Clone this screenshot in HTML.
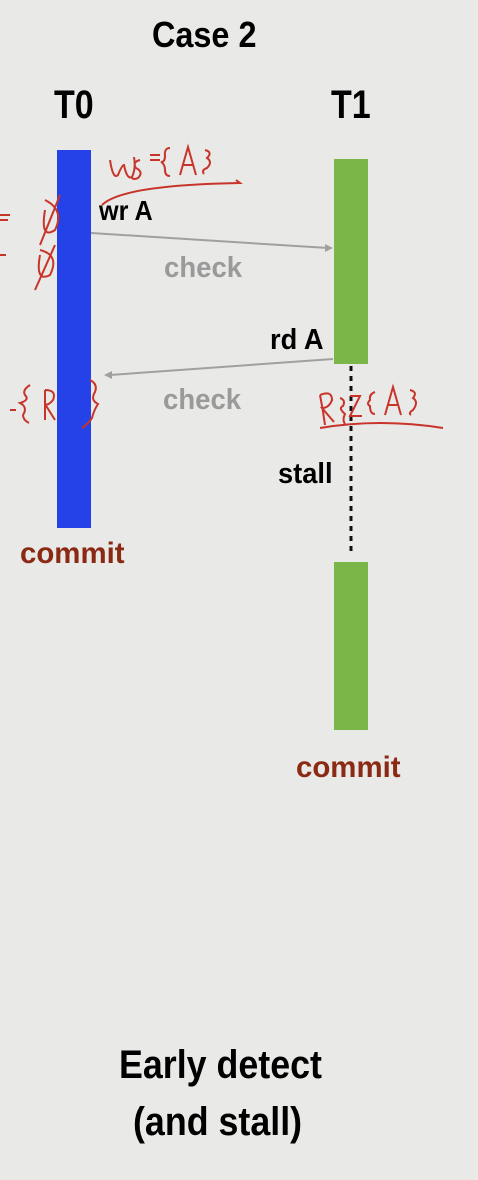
<!DOCTYPE html>
<html><head><style>
body{margin:0;width:478px;height:1180px;background:#e9e9e7;position:relative;overflow:hidden;font-family:"Liberation Sans",sans-serif;font-weight:bold}
.t{position:absolute;white-space:nowrap;transform-origin:left top}
</style></head><body>
<svg width="478" height="1180" style="position:absolute;left:0;top:0">
<rect x="57" y="150" width="34" height="378" fill="#2442e8"/>
<rect x="334" y="159" width="34" height="205" fill="#7ab648"/>
<rect x="334" y="562" width="34" height="168" fill="#7ab648"/>
<line x1="91" y1="233" x2="328" y2="248" stroke="#a0a0a0" stroke-width="2"/>
<polygon points="333,248 325,244 325,252" fill="#a0a0a0"/>
<line x1="333" y1="359" x2="110" y2="375" stroke="#a0a0a0" stroke-width="2"/>
<polygon points="104,375 112,371 112,379" fill="#a0a0a0"/>
<line x1="351" y1="366" x2="351" y2="552" stroke="#111" stroke-width="3" stroke-dasharray="5,5"/>
<g fill="none" stroke="#c8342a" stroke-width="2">
<path d="M110 160 q3 20 8 15 q4-10 6-10 q3 15 8 12 q4-8 2-20 M140 160 q-8 2-4 8 q8 4 2 10 q-4 2-6 0 M150 155 h10 M150 160 h10 M170 148 q-6 0-5 8 q0 6-4 6 q4 2 4 8 q0 6 5 6 M180 175 l8-28 l8 28 M183 165 h10 M205 150 q8 2 2 8 q6 4 0 10 q-6 2-3 6"/>
<path d="M102 205 q20-20 138-22 l-4-3"/>
<path d="M45 200 q20 10 10 30 q-15 10-10-20 M60 195 l-20 50 M40 250 q20 5 10 25 q-15 8-10-20 M55 245 l-20 45 M0 215 h10 M0 220 h8 M0 255 h6"/>
<path d="M30 385 q-8 5-5 10 q5 5-5 8 q8 4 3 12 q0 5 6 8 M45 390 v30 M45 390 q12 0 8 10 q-5 6-8 4 l10 16 M90 380 q8 4 5 12 q-5 8 3 12 q-4 6-6 14 q-3 5-10 10 M10 410 h6"/>
<path d="M320 395 q3 15 5 30 M320 395 q12-5 12 5 q-3 8-10 8 l12 14 M340 398 q6 2 3 8 q-5 2 2 8 q-3 6 0 10 M350 396 h10 l-10 20 h12 M375 392 q-6 2-5 8 q-4 4 0 6 q0 8 5 8 M385 415 l8-28 l8 28 M388 405 h10 M410 390 q8 2 3 8 q6 4 0 12 q-5 3-2 5 M320 428 q60 -10 123 0"/>
</g>
</svg>
<div class="t" style="left:152px;top:14px;font-size:36px;transform:scaleX(0.9)">Case 2</div>
<div class="t" style="left:54px;top:83px;font-size:40px;transform:scaleX(0.85)">T0</div>
<div class="t" style="left:331px;top:83px;font-size:40px;transform:scaleX(0.85)">T1</div>
<div class="t" style="left:99px;top:195px;font-size:28px;transform:scaleX(0.9)">wr A</div>
<div class="t" style="left:164px;top:252px;font-size:29px;color:#9a9a9a;transform:scaleX(0.95)">check</div>
<div class="t" style="left:270px;top:324px;font-size:29px;transform:scaleX(0.94)">rd A</div>
<div class="t" style="left:163px;top:384px;font-size:29px;color:#9a9a9a;transform:scaleX(0.95)">check</div>
<div class="t" style="left:278px;top:458px;font-size:29px;transform:scaleX(0.94)">stall</div>
<div class="t" style="left:20px;top:537px;font-size:30px;color:#8b2a14;transform:scaleX(0.98)">commit</div>
<div class="t" style="left:296px;top:751px;font-size:30px;color:#8b2a14;transform:scaleX(0.98)">commit</div>
<div class="t" style="left:119px;top:1043px;font-size:40px;transform:scaleX(0.895)">Early detect</div>
<div class="t" style="left:133px;top:1100px;font-size:40px;transform:scaleX(0.895)">(and stall)</div>
</body></html>
